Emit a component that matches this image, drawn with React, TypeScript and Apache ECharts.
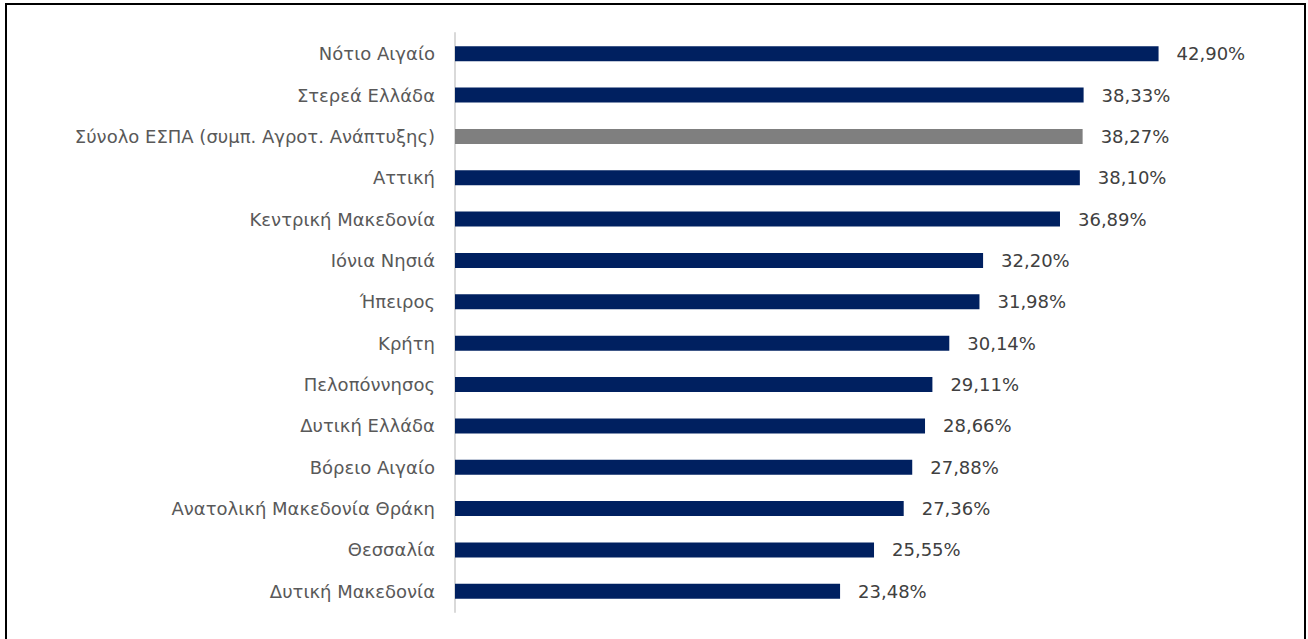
import React, { useEffect, useRef } from "react";
import * as echarts from "echarts";

const categories = [
  "Νότιο Αιγαίο",
  "Στερεά Ελλάδα",
  "Σύνολο ΕΣΠΑ (συμπ. Αγροτ. Ανάπτυξης)",
  "Αττική",
  "Κεντρική Μακεδονία",
  "Ιόνια Νησιά",
  "Ήπειρος",
  "Κρήτη",
  "Πελοπόννησος",
  "Δυτική Ελλάδα",
  "Βόρειο Αιγαίο",
  "Ανατολική Μακεδονία Θράκη",
  "Θεσσαλία",
  "Δυτική Μακεδονία",
];
const values = [42.9, 38.33, 38.27, 38.1, 36.89, 32.2, 31.98, 30.14, 29.11, 28.66, 27.88, 27.36, 25.55, 23.48];
const highlighted = ["Σύνολο ΕΣΠΑ (συμπ. Αγροτ. Ανάπτυξης)"];

const FONT = "'DejaVu Sans', sans-serif";

export default function App() {
  const ref = useRef<HTMLDivElement>(null);
  useEffect(() => {
    if (!ref.current) return;
    const chart = echarts.init(ref.current, null, { renderer: "svg" });
    chart.setOption({
      animation: false,
      backgroundColor: "#ffffff",
      grid: { left: 455, right: 33, top: 33, bottom: 27, containLabel: false },
      xAxis: {
        type: "value",
        min: 0,
        max: 50,
        show: false,
      },
      yAxis: {
        type: "category",
        inverse: true,
        data: categories,
        axisLine: { show: true, lineStyle: { color: "#d9d9d9", width: 2 } },
        axisTick: { show: false },
        axisLabel: { color: "#595959", fontSize: 18, fontFamily: FONT, margin: 20 },
        splitLine: { show: false },
      },
      series: [
        {
          type: "bar",
          barWidth: 15,
          data: categories.map((c, i) => ({
            value: values[i],
            itemStyle: { color: highlighted.includes(c) ? "#7f7f7f" : "#002060" },
          })),
          label: {
            show: true,
            position: "right",
            distance: 18,
            color: "#404040",
            fontSize: 18,
            fontFamily: FONT,
            formatter: (p: any) => p.value.toFixed(2).replace(".", ",") + "%",
          },
        },
      ],
      graphic: [
        {
          type: "rect",
          shape: { x: 6, y: 4, width: 1299, height: 660 },
          style: { fill: "none", stroke: "#000000", lineWidth: 2 },
          silent: true,
        },
      ],
    });
    return () => chart.dispose();
  }, []);
  return <div ref={ref} style={{ position: "absolute", left: 0, top: 0, width: 1308, height: 639 }} />;
}
